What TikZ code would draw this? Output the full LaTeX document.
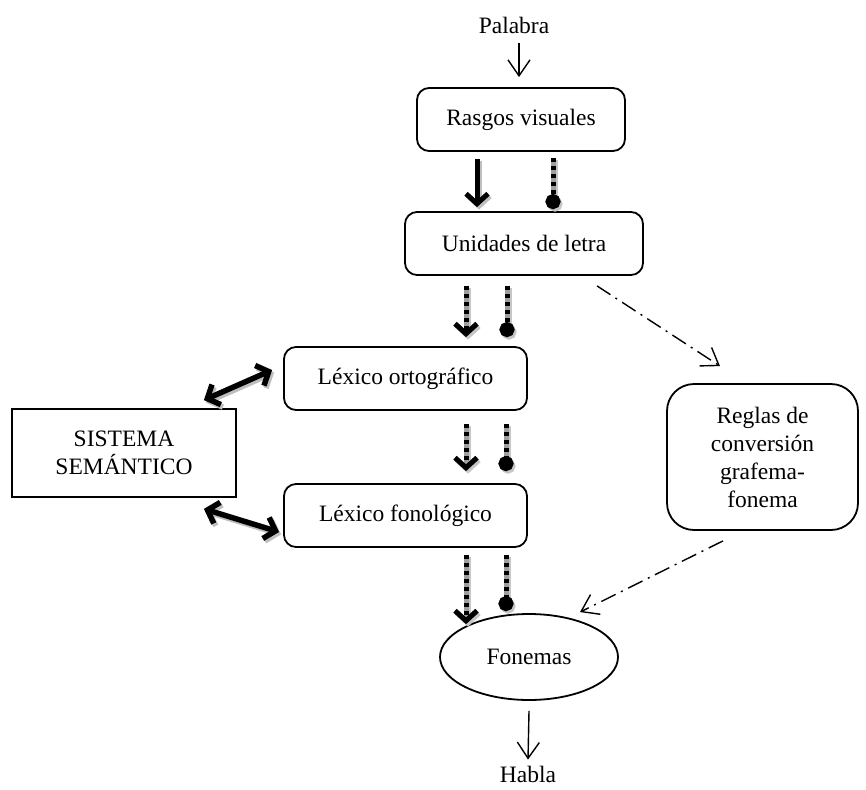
\documentclass[tikz,border=0pt]{standalone}
\usepackage{fontspec}
\setmainfont{Liberation Serif}
\usetikzlibrary{arrows.meta,shapes.geometric}

% heavy connector with a soft drop shadow
\newcommand\heavyline[3]{%
  \draw[#1, color=gray!50, transform canvas={shift={(2pt,-2.5pt)}}] #2 -- #3;
  \draw[#1] #2 -- #3;}
% striped (black/grey) connector with a drop shadow
\newcommand\stripeline[3]{%
  \draw[#1, color=gray!45, transform canvas={shift={(2pt,-2.5pt)}}] #2 -- #3;
  \draw[#1, color=gray!75] #2 -- #3;
  \draw[#1, dash pattern=on 4pt off 4pt] #2 -- #3;}

\begin{document}
\begin{tikzpicture}[x=1pt,y=-1pt,
  every node/.style={font=\fontsize{23.5}{28}\selectfont},
  box/.style={draw, line width=1.8pt, rounded corners=12pt, inner sep=0pt, align=center},
  word/.style={inner sep=0pt},
  thinarrow/.style={line width=1.4pt, -{Straight Barb[length=16pt,width=22pt]}},
  chaintip/.style={line width=1.4pt, dash pattern=on 16pt off 6pt on 2pt off 6pt,
    -{Straight Barb[length=16pt,width=22pt]}},
  boldtip/.style={line width=5pt, -{Straight Barb[length=10pt,width=22pt]}},
  balltip/.style={line width=5pt, -{Circle[length=15pt]}},
  twoway/.style={line width=5.5pt, {Straight Barb[length=10pt,width=22pt]}-{Straight Barb[length=10pt,width=22pt]}}
]
\useasboundingbox (0,0) rectangle (866,789);

% nodes
\node[word] (palabra) at (514,25) {Palabra};
\node[box, minimum width=208pt, minimum height=63pt] (rasgos) at (521,119.5) {Rasgos visuales};
\node[box, minimum width=238pt, minimum height=63pt] (unidades) at (524,243.5) {Unidades de letra};
\node[box, minimum width=243pt, minimum height=63pt] (lexorto) at (405.5,378.5) {Léxico ortográfico};
\node[box, minimum width=243pt, minimum height=63pt] (lexfono) at (405.5,515.5) {Léxico fonológico};
\node[box, rounded corners=0pt, minimum width=224pt, minimum height=88pt] (sistema) at (124,453) {SISTEMA\\SEMÁNTICO};
\node[box, rounded corners=27pt, minimum width=191pt, minimum height=146pt] (reglas) at (762.5,457) {Reglas de\\conversión\\grafema-\\fonema};
\node[draw, line width=1.8pt, ellipse, inner sep=0pt, minimum width=178pt, minimum height=86pt] (fonemas) at (529,657) {Fonemas};
\node[word] (habla) at (528,774) {Habla};

% input and output
\draw[thinarrow] ([xshift=5pt,yshift=-10pt]palabra.south) -- ([xshift=-2pt,yshift=10pt]rasgos.north);
\draw[thinarrow] ([yshift=-10pt]fonemas.south) -- ([yshift=6pt]habla.north);

% rasgos -> unidades
\heavyline{boldtip}{([xshift=-44pt,yshift=-7pt]rasgos.south)}{([xshift=-47pt,yshift=4pt]unidades.north)}
\stripeline{balltip}{([xshift=32pt,yshift=-6pt]rasgos.south)}{([xshift=29pt,yshift=2pt]unidades.north)}

% unidades -> lexico ortografico
\stripeline{boldtip}{([xshift=-58pt,yshift=-10pt]unidades.south)}{([xshift=60.5pt,yshift=9pt]lexorto.north)}
\stripeline{balltip}{([xshift=-17pt,yshift=-10pt]unidades.south)}{([xshift=101.5pt,yshift=9pt]lexorto.north)}

% lexico ortografico -> lexico fonologico
\stripeline{boldtip}{([xshift=60.5pt,yshift=-13pt]lexorto.south)}{([xshift=60.5pt,yshift=12pt]lexfono.north)}
\stripeline{balltip}{([xshift=100.5pt,yshift=-13pt]lexorto.south)}{([xshift=100.5pt,yshift=12pt]lexfono.north)}

% lexico fonologico -> fonemas
\stripeline{boldtip}{([xshift=60.5pt,yshift=-7pt]lexfono.south)}{([xshift=-63pt,yshift=-11pt]fonemas.north)}
\stripeline{balltip}{([xshift=100.5pt,yshift=-7pt]lexfono.south)}{([xshift=-23pt,yshift=2pt]fonemas.north)}

% sistema semantico <-> lexicons
\heavyline{twoway}{([xshift=-33pt,yshift=8pt]sistema.north east)}{([xshift=-11pt,yshift=8.5pt]lexorto.west)}
\heavyline{twoway}{([xshift=-33pt,yshift=-11pt]sistema.south east)}{([xshift=-4pt,yshift=-16.5pt]lexfono.west)}

% grapheme-phoneme route
\draw[chaintip] ([xshift=73pt,yshift=-10pt]unidades.south) -- ([xshift=-42.5pt,yshift=17pt]reglas.north);
\draw[chaintip] ([xshift=-39.5pt,yshift=-10pt]reglas.south) -- ([xshift=51pt,yshift=1pt]fonemas.north);
\end{tikzpicture}
\end{document}
